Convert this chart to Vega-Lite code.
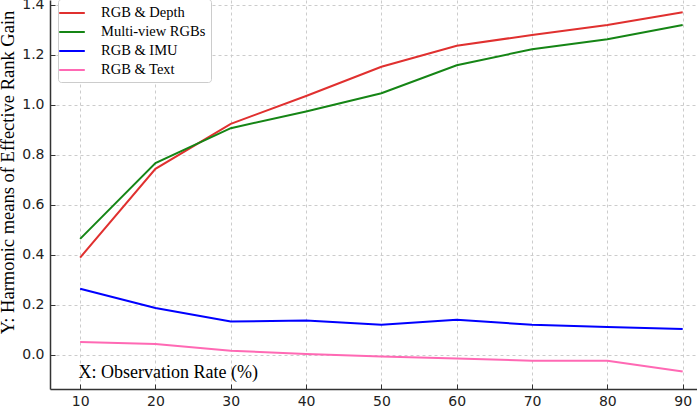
{
  "$schema": "https://vega.github.io/schema/vega-lite/v6.json",
  "autosize": {"type": "none"},
  "width": 647,
  "height": 389,
  "padding": {"left": 50, "top": 0, "right": 0, "bottom": 20},
  "background": "white",
  "config": {"view": {"stroke": null}},
  "data": {"values": [
    {"x": 10, "y": 0.389, "s": "RGB & Depth"},
    {"x": 20, "y": 0.744, "s": "RGB & Depth"},
    {"x": 30, "y": 0.924, "s": "RGB & Depth"},
    {"x": 40, "y": 1.036, "s": "RGB & Depth"},
    {"x": 50, "y": 1.153, "s": "RGB & Depth"},
    {"x": 60, "y": 1.237, "s": "RGB & Depth"},
    {"x": 70, "y": 1.28, "s": "RGB & Depth"},
    {"x": 80, "y": 1.32, "s": "RGB & Depth"},
    {"x": 90, "y": 1.371, "s": "RGB & Depth"},
    {"x": 10, "y": 0.464, "s": "Multi-view RGBs"},
    {"x": 20, "y": 0.767, "s": "Multi-view RGBs"},
    {"x": 30, "y": 0.907, "s": "Multi-view RGBs"},
    {"x": 40, "y": 0.974, "s": "Multi-view RGBs"},
    {"x": 50, "y": 1.047, "s": "Multi-view RGBs"},
    {"x": 60, "y": 1.159, "s": "Multi-view RGBs"},
    {"x": 70, "y": 1.223, "s": "Multi-view RGBs"},
    {"x": 80, "y": 1.263, "s": "Multi-view RGBs"},
    {"x": 90, "y": 1.32, "s": "Multi-view RGBs"},
    {"x": 10, "y": 0.264, "s": "RGB & IMU"},
    {"x": 20, "y": 0.187, "s": "RGB & IMU"},
    {"x": 30, "y": 0.133, "s": "RGB & IMU"},
    {"x": 40, "y": 0.137, "s": "RGB & IMU"},
    {"x": 50, "y": 0.12, "s": "RGB & IMU"},
    {"x": 60, "y": 0.14, "s": "RGB & IMU"},
    {"x": 70, "y": 0.12, "s": "RGB & IMU"},
    {"x": 80, "y": 0.111, "s": "RGB & IMU"},
    {"x": 90, "y": 0.103, "s": "RGB & IMU"},
    {"x": 10, "y": 0.051, "s": "RGB & Text"},
    {"x": 20, "y": 0.043, "s": "RGB & Text"},
    {"x": 30, "y": 0.016, "s": "RGB & Text"},
    {"x": 40, "y": 0.003, "s": "RGB & Text"},
    {"x": 50, "y": -0.007, "s": "RGB & Text"},
    {"x": 60, "y": -0.015, "s": "RGB & Text"},
    {"x": 70, "y": -0.024, "s": "RGB & Text"},
    {"x": 80, "y": -0.024, "s": "RGB & Text"},
    {"x": 90, "y": -0.067, "s": "RGB & Text"}
  ]},
  "mark": {"type": "line", "strokeWidth": 2, "clip": true},
  "encoding": {
    "x": {
      "field": "x", "type": "quantitative",
      "scale": {"domain": [6, 91.9], "nice": false, "zero": false},
      "axis": {
        "values": [10, 20, 30, 40, 50, 60, 70, 80, 90],
        "title": "X: Observation Rate (%)",
        "titleFont": "Liberation Serif", "titleFontSize": 18, "titleFontWeight": "normal", "titleColor": "#000",
        "titleAnchor": "start", "titleAlign": "left", "titleBaseline": "middle",
        "titleX": 28, "titleY": -17,
        "labelFont": "DejaVu Sans", "labelFontSize": 14, "labelColor": "#222",
        "labelPadding": 10,
        "tickSize": -5, "tickColor": "#333", "tickWidth": 1,
        "domainColor": "#333", "domainWidth": 1.5,
        "grid": true, "gridColor": "#cccccc", "gridDash": [3, 3], "gridWidth": 1
      }
    },
    "y": {
      "field": "y", "type": "quantitative",
      "scale": {"domain": [-0.137, 1.42], "nice": false, "zero": false},
      "axis": {
        "values": [0, 0.2, 0.4, 0.6, 0.8, 1.0, 1.2, 1.4],
        "format": ".1f",
        "title": "Y: Harmonic means of Effective Rank Gain",
        "titleFont": "Liberation Serif", "titleFontSize": 18.5, "titleFontWeight": "normal", "titleColor": "#000",
        "titleX": -43, "titleY": 172, "titleBaseline": "middle", "titleAngle": -90, "titleAlign": "center",
        "labelFont": "DejaVu Sans", "labelFontSize": 14, "labelColor": "#222",
        "labelPadding": 11,
        "tickSize": -5, "tickColor": "#333", "tickWidth": 1,
        "domainColor": "#333", "domainWidth": 1.5,
        "grid": true, "gridColor": "#cccccc", "gridDash": [3, 3], "gridWidth": 1
      }
    },
    "color": {
      "field": "s", "type": "nominal",
      "scale": {
        "domain": ["RGB & Depth", "Multi-view RGBs", "RGB & IMU", "RGB & Text"],
        "range": ["#e0302f", "#158515", "#0000ff", "#ff69b4"]
      },
      "legend": {
        "title": null,
        "orient": "none", "legendX": 8, "legendY": -1,
        "symbolType": "M-1.6,0H1.6", "symbolSize": 256, "symbolStrokeWidth": 2,
        "labelFont": "Liberation Serif", "labelFontSize": 14.5, "labelColor": "#000",
        "rowPadding": 3, "labelOffset": 20,
        "padding": 5, "strokeColor": "#cccccc", "fillColor": "white", "cornerRadius": 3
      }
    }
  }
}
